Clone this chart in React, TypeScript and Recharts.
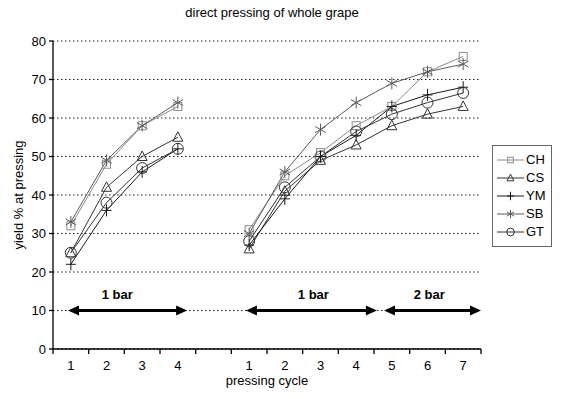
import React from 'react';
import { LineChart, Line, XAxis, YAxis, CartesianGrid, ReferenceLine, ReferenceDot } from 'recharts';

// category slots along the x axis (slot 4 is the empty gap between the two experiments)
const cycleLabels = ['1', '2', '3', '4', '', '1', '2', '3', '4', '5', '6', '7'];
const CH = [32, 48, 58, 63, null, 31, 45, 51, 58, 63, 72, 76];
const CS = [25, 42, 50, 55, null, 26, 41, 49, 53, 58, 61, 63];
const YM = [22, 36, 46, 52, null, 27, 39, 50, 55.5, 63, 66, 68];
const SB = [33, 49, 58, 64, null, 30, 46, 57, 64, 69, 72, 74];
const GT = [25, 38, 47, 52, null, 28, 42, 50, 56.5, 61, 64, 66.5];
const yTicks = [0, 10, 20, 30, 40, 50, 60, 70, 80];
const xTicks = [0, 1, 2, 3, 4, 5, 6, 7, 8, 9, 10, 11, 12];

// pressure annotations (in slot units along x, at yield level 10)
const arrowLevel = 10;
const arrows = [
  { from: 0.42, to: 3.76, label: '1 bar', labelAt: 1.8 },
  { from: 5.41, to: 9.08, label: '1 bar', labelAt: 7.3 },
  { from: 9.28, to: 12, label: '2 bar', labelAt: 10.55 },
];

const data = cycleLabels.map((c, i) => ({
  slot: i + 0.5,
  CH: CH[i],
  CS: CS[i],
  YM: YM[i],
  SB: SB[i],
  GT: GT[i],
}));

type MarkerType = 'square' | 'triangle' | 'plus' | 'star' | 'circle';
const series: { key: string; color: string; marker: MarkerType }[] = [
  { key: 'CH', color: '#8c8c8c', marker: 'square' },
  { key: 'CS', color: '#333333', marker: 'triangle' },
  { key: 'YM', color: '#1a1a1a', marker: 'plus' },
  { key: 'SB', color: '#5a5a5a', marker: 'star' },
  { key: 'GT', color: '#333333', marker: 'circle' },
];

const W = 566;
const H = 399;
const M = { top: 41, right: 85, bottom: 10, left: 0 };
const Y_W = 53;
const halfBand = (W - M.right - M.left - Y_W) / 12 / 2;
const FONT = '"Liberation Sans", Arial, sans-serif';

function Marker({ type, cx, cy, color, k = 1 }: { type: MarkerType; cx: number; cy: number; color: string; k?: number }) {
  const sw = 1;
  switch (type) {
    case 'square':
      return <rect x={cx - 4 * k} y={cy - 4 * k} width={8 * k} height={8 * k} fill="none" stroke={color} strokeWidth={sw} />;
    case 'triangle':
      return (
        <polygon
          points={`${cx},${cy - 5.5 * k} ${cx - 5 * k},${cy + 4 * k} ${cx + 5 * k},${cy + 4 * k}`}
          fill="none"
          stroke={color}
          strokeWidth={sw}
        />
      );
    case 'plus':
      return (
        <g stroke={color} strokeWidth={sw}>
          <line x1={cx - 5 * k} y1={cy} x2={cx + 5 * k} y2={cy} />
          <line x1={cx} y1={cy - 6 * k} x2={cx} y2={cy + 6 * k} />
        </g>
      );
    case 'star': {
      const r = 6 * k;
      const a = r * Math.cos(Math.PI / 6);
      const b = r * Math.sin(Math.PI / 6);
      return (
        <g stroke={color} strokeWidth={sw}>
          <line x1={cx} y1={cy - r} x2={cx} y2={cy + r} />
          <line x1={cx - a} y1={cy - b} x2={cx + a} y2={cy + b} />
          <line x1={cx - a} y1={cy + b} x2={cx + a} y2={cy - b} />
        </g>
      );
    }
    case 'circle':
    default:
      return <circle cx={cx} cy={cy} r={5.5 * k} fill="none" stroke={color} strokeWidth={sw} />;
  }
}

const makeDot = (type: MarkerType, color: string) => (props: any) => {
  const { cx, cy, index } = props;
  if (cx == null || cy == null || props.value == null || (Array.isArray(props.value) && props.value[1] == null)) {
    return <g key={`d-${type}-${index}`} />;
  }
  return (
    <g key={`d-${type}-${index}`}>
      <Marker type={type} cx={cx} cy={cy} color={color} />
    </g>
  );
};

const XTick = (props: any) => {
  const { x, y, payload } = props;
  const v = payload.value as number;
  const label = v < cycleLabels.length ? cycleLabels[v] : '';
  return (
    <text x={x + halfBand} y={y} dy="0.75em" textAnchor="middle" fontSize={13} fill="#000" fontFamily={FONT}>
      {label}
    </text>
  );
};

const ArrowShape = (props: any) => {
  const { x1, y1, x2 } = props;
  const head = 11;
  const hw = 5;
  const y = y1;
  return (
    <g>
      <line x1={x1 + head - 1} y1={y} x2={x2 - head + 1} y2={y} stroke="#000" strokeWidth={3} />
      <polygon points={`${x1},${y} ${x1 + head},${y - hw} ${x1 + head},${y + hw}`} fill="#000" />
      <polygon points={`${x2},${y} ${x2 - head},${y - hw} ${x2 - head},${y + hw}`} fill="#000" />
    </g>
  );
};

export default function App() {
  return (
    <div style={{ position: 'absolute', left: 0, top: 0, width: W, height: H, fontFamily: FONT, background: '#fff' }}>
      <div
        style={{
          position: 'absolute',
          left: 0,
          width: 544,
          top: 5,
          textAlign: 'center',
          fontSize: 13,
          color: '#000',
        }}
      >
        direct pressing of whole grape
      </div>
      <LineChart width={W} height={H} data={data} margin={M}>
        <CartesianGrid horizontal vertical={false} stroke="#222" strokeDasharray="1.5 2.5" />
        <XAxis
          dataKey="slot"
          type="number"
          domain={[0, 12]}
          ticks={xTicks}
          interval={0}
          allowDataOverflow
          height={40}
          axisLine={{ stroke: '#000', strokeWidth: 1.3 }}
          tickLine={{ stroke: '#000', strokeWidth: 1.3 }}
          tickSize={5}
          tickMargin={6}
          tick={<XTick />}
          label={{ value: 'pressing cycle', position: 'insideTop', offset: 27, fontSize: 13, fill: '#000' }}
        />
        <YAxis
          type="number"
          domain={[0, 80]}
          ticks={yTicks}
          interval={0}
          width={Y_W}
          axisLine={{ stroke: '#000', strokeWidth: 1.3 }}
          tickLine={{ stroke: '#000', strokeWidth: 1.3 }}
          tickSize={4}
          tickMargin={3}
          tick={{ fontSize: 13, fill: '#000' }}
          label={{
            value: 'yield % at pressing',
            angle: -90,
            position: 'insideLeft',
            offset: 18,
            fontSize: 13,
            fill: '#000',
            style: { textAnchor: 'middle' },
          }}
        />
        {arrows.map((a, i) => (
          <ReferenceLine
            key={`arrow-${i}`}
            segment={[
              { x: a.from, y: arrowLevel },
              { x: a.to, y: arrowLevel },
            ]}
            ifOverflow="visible"
            shape={<ArrowShape />}
          />
        ))}
        {arrows.map((a, i) => (
          <ReferenceDot
            key={`lbl-${i}`}
            x={a.labelAt}
            y={arrowLevel}
            r={0}
            fill="none"
            stroke="none"
            ifOverflow="visible"
            label={{ value: a.label, position: 'top', offset: 12, fontSize: 13, fontWeight: 'bold', fill: '#000' }}
          />
        ))}
        {series.map((s) => (
          <Line
            key={s.key}
            type="linear"
            dataKey={s.key}
            stroke={s.color}
            strokeWidth={1}
            dot={makeDot(s.marker, s.color)}
            activeDot={false}
            connectNulls={false}
            isAnimationActive={false}
          />
        ))}
      </LineChart>
      <div
        style={{
          position: 'absolute',
          left: 492,
          top: 145,
          width: 58,
          height: 95,
          border: '1px solid #666',
          background: '#fff',
          paddingTop: 5,
          boxSizing: 'content-box',
        }}
      >
        {series.map((s) => (
          <div key={s.key} style={{ height: 18, display: 'flex', alignItems: 'center' }}>
            <svg width={33} height={18} style={{ display: 'block' }}>
              <line x1={4} y1={9} x2={31} y2={9} stroke={s.color} strokeWidth={1} />
              <Marker type={s.marker} cx={17.5} cy={9} color={s.color} k={0.7} />
            </svg>
            <span style={{ fontSize: 13, color: '#000', lineHeight: '18px' }}>{s.key}</span>
          </div>
        ))}
      </div>
    </div>
  );
}
